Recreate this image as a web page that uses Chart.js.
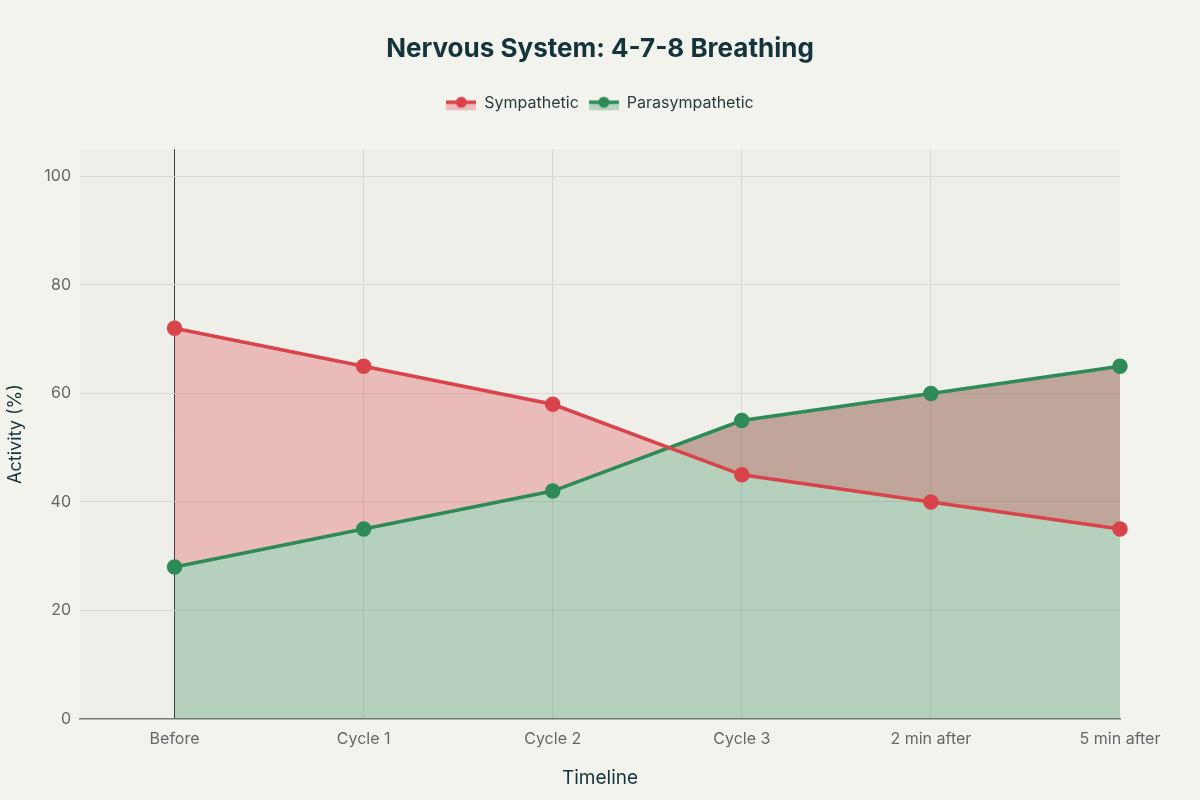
<!DOCTYPE html>
<html>
<head>
<meta charset="utf-8">
<script src="https://cdn.jsdelivr.net/npm/chart.js@4.4.1/dist/chart.umd.min.js"></script>
<style>
  html, body { margin: 0; padding: 0; background: #f3f3ee; }
  #wrap { width: 1200px; height: 800px; }
</style>
</head>
<body>
<div id="wrap"><canvas id="chart" width="1200" height="800"></canvas></div>
<script>
const timeline = ['Before', 'Cycle 1', 'Cycle 2', 'Cycle 3', '2 min after', '5 min after'];
const sympathetic = [72, 65, 58, 45, 40, 35];
const parasympathetic = [28, 35, 42, 55, 60, 65];
const yTicks = [0, 20, 40, 60, 80, 100];

const RED = '#d9434a';
const GREEN = '#2e8b57';
const RED_FILL = 'rgba(217, 67, 74, 0.3)';
const GREEN_FILL = 'rgba(46, 139, 87, 0.3)';
const FONT = 'Inter, "Noto Sans", sans-serif';

// small line + dot + band icon, like the plotly legend
function legendIcon(color, fill) {
  const c = document.createElement('canvas');
  c.width = 30; c.height = 18;
  const g = c.getContext('2d');
  g.fillStyle = fill;
  g.fillRect(0, 9, 30, 7);
  g.strokeStyle = color;
  g.lineWidth = 3.5;
  g.beginPath(); g.moveTo(0, 8); g.lineTo(30, 8); g.stroke();
  g.fillStyle = color;
  g.beginPath(); g.arc(15, 8, 5.5, 0, Math.PI * 2); g.fill();
  return c;
}

const toPoints = arr => arr.map((v, i) => ({ x: i, y: v }));

const background = {
  id: 'background',
  beforeDraw(chart) {
    const { ctx, chartArea: a } = chart;
    ctx.save();
    ctx.fillStyle = '#f3f3ee';
    ctx.fillRect(0, 0, chart.width, chart.height);
    ctx.fillStyle = '#efefea';
    ctx.fillRect(a.left, a.top, a.right - a.left, a.bottom - a.top);
    ctx.restore();
  }
};

const legendGap = {
  id: 'legendGap',
  beforeInit(chart) {
    const fit = chart.legend.fit;
    chart.legend.fit = function () {
      fit.bind(chart.legend)();
      this.height += 28;
    };
  }
};

new Chart(document.getElementById('chart'), {
  type: 'line',
  data: {
    datasets: [
      {
        label: 'Sympathetic',
        data: toPoints(sympathetic),
        borderColor: RED,
        backgroundColor: RED_FILL,
        pointBackgroundColor: RED,
        pointBorderColor: RED,
        pointRadius: 6,
        pointHoverRadius: 6,
        borderWidth: 3.5,
        fill: 1,
        clip: false,
        legendIcon: legendIcon(RED, RED_FILL)
      },
      {
        label: 'Parasympathetic',
        data: toPoints(parasympathetic),
        borderColor: GREEN,
        backgroundColor: GREEN_FILL,
        pointBackgroundColor: GREEN,
        pointBorderColor: GREEN,
        pointRadius: 6,
        pointHoverRadius: 6,
        borderWidth: 3.5,
        fill: 'origin',
        clip: false,
        legendIcon: legendIcon(GREEN, GREEN_FILL)
      }
    ]
  },
  options: {
    responsive: false,
    animation: false,
    layout: { padding: 0 },
    plugins: {
      filler: { drawTime: 'beforeDatasetsDraw' },
      title: {
        display: true,
        text: 'Nervous System: 4-7-8 Breathing',
        color: '#13343b',
        font: { family: FONT, size: 26, weight: 'bold' },
        padding: { top: 34, bottom: 20 }
      },
      legend: {
        display: true,
        position: 'top',
        labels: {
          usePointStyle: true,
          pointStyleWidth: 30,
          color: '#2a3b3e',
          font: { family: FONT, size: 16 },
          padding: 10,
          generateLabels(chart) {
            return chart.data.datasets.map((ds, i) => ({
              text: ds.label,
              pointStyle: ds.legendIcon,
              fillStyle: ds.borderColor,
              strokeStyle: ds.borderColor,
              fontColor: '#2a3b3e',
              lineWidth: 0,
              hidden: false,
              datasetIndex: i
            }));
          }
        }
      },
      tooltip: { enabled: false }
    },
    scales: {
      x: {
        type: 'linear',
        min: -0.5,
        max: timeline.length - 1,
        afterBuildTicks(scale) {
          scale.ticks = timeline.map((_, i) => ({ value: i }));
        },
        afterFit(scale) { scale.height = 81; },
        ticks: {
          callback: v => timeline[v] ?? '',
          color: '#666',
          font: { family: FONT, size: 16 },
          padding: 11,
          maxRotation: 0,
          autoSkip: false
        },
        grid: {
          drawTicks: false,
          color: c => {
            if (!c.tick) return '#d8d8d3';
            if (c.tick.value === 0) return '#3d3d3d';
            if (c.tick.value === timeline.length - 1) return 'rgba(0,0,0,0)';
            return '#d8d8d3';
          },
          lineWidth: 1
        },
        border: { display: true, color: '#7a7a7a', width: 1.5 },
        title: {
          display: true,
          text: 'Timeline',
          color: '#13343b',
          font: { family: FONT, size: 19 },
          padding: { top: 0, bottom: 10 }
        }
      },
      y: {
        min: 0,
        max: 105,
        afterBuildTicks(scale) {
          scale.ticks = yTicks.map(v => ({ value: v }));
        },
        afterFit(scale) { scale.width = 80; },
        ticks: {
          color: '#666',
          font: { family: FONT, size: 16 },
          padding: 9
        },
        grid: {
          drawTicks: false,
          color: c => (c.tick && c.tick.value === 0 ? 'rgba(0,0,0,0)' : '#d8d8d3'),
          lineWidth: 1
        },
        border: { display: false },
        title: {
          display: true,
          text: 'Activity (%)',
          color: '#13343b',
          font: { family: FONT, size: 18 },
          padding: { top: 5, bottom: 0 }
        }
      },
      // empty right-hand axis only keeps the plot edge at x = 1120
      yRight: {
        position: 'right',
        display: true,
        afterFit(scale) { scale.width = 80; },
        ticks: { display: false },
        grid: { display: false, drawOnChartArea: false },
        border: { display: false }
      }
    }
  },
  plugins: [background, legendGap]
});
</script>
</body>
</html>
